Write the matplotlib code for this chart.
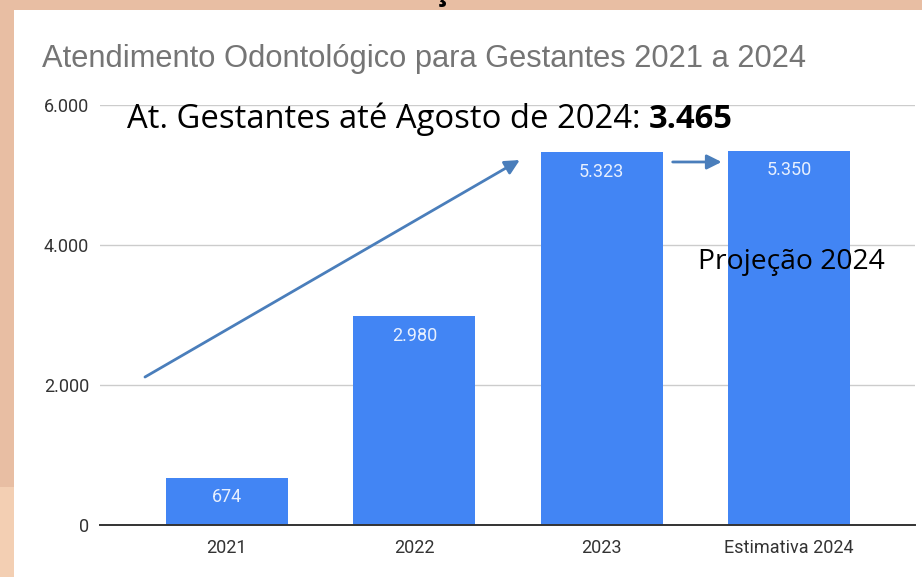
import matplotlib
matplotlib.use("Agg")
import matplotlib.pyplot as plt
from matplotlib.patches import Rectangle

categories = ["2021", "2022", "2023", "Estimativa 2024"]
values = [674, 2980, 5323, 5350]
value_labels = ["674", "2.980", "5.323", "5.350"]
yticks = [0, 2000, 4000, 6000]
ytick_labels = ["0", "2.000", "4.000", "6.000"]

title = "Atendimento Odontológico para Gestantes 2021 a 2024"
note_main = "At. Gestantes até Agosto de 2024: "
note_bold = "3.465"
note_proj = "Projeção 2024"

W, H = 922, 577
fig = plt.figure(figsize=(W / 100, H / 100), dpi=100)
fig.patch.set_facecolor("white")

# peach frame
fig.add_artist(Rectangle((0, 1 - 10 / H), 1, 10 / H, transform=fig.transFigure,
                         facecolor="#E8BEA3", edgecolor="none", zorder=0))
fig.add_artist(Rectangle((0, (H - 487) / H), 14 / W, (487 - 10) / H, transform=fig.transFigure,
                         facecolor="#E8BEA3", edgecolor="none", zorder=0))
fig.add_artist(Rectangle((0, 0), 14 / W, (H - 487) / H, transform=fig.transFigure,
                         facecolor="#F3CFB3", edgecolor="none", zorder=0))
# cut-off slide heading (only the cedilla is visible)
fig.text(441 / W, 1.0, "ç", ha="center", va="baseline", fontsize=22,
         family="Open Sans", fontweight="bold", color="black")

ax = fig.add_axes([100 / W, 52 / H, 815 / W, 420 / H])
ax.set_facecolor("white")
x = list(range(len(categories)))
bars = ax.bar(x, values, width=0.65, color="#4285F4", zorder=3)
for xi, v, lab in zip(x, values, value_labels):
    ax.annotate(lab, (xi, v), xytext=(0, -14), textcoords="offset points",
                ha="center", va="center", color="#E8F0FE", fontsize=13,
                family="Roboto", zorder=4)

ax.set_xlim(-0.677, 3.672)
ax.set_ylim(0, 6000)
ax.set_yticks(yticks)
ax.set_yticklabels(ytick_labels)
ax.set_xticks(x)
ax.set_xticklabels(categories)
ax.tick_params(axis="both", length=0, labelsize=13, colors="#444444")
ax.tick_params(axis="y", pad=8)
ax.tick_params(axis="x", pad=10)
for lab in ax.get_xticklabels() + ax.get_yticklabels():
    lab.set_family("Roboto")
    lab.set_color("#333333")
ax.grid(axis="y", color="#CCCCCC", linewidth=1, zorder=0)
for s in ["top", "right", "left"]:
    ax.spines[s].set_visible(False)
ax.spines["bottom"].set_color("#333333")
ax.spines["bottom"].set_linewidth(1.4)
ax.spines["bottom"].set_zorder(5)

fig.text(42 / W, 1 - 59 / H, title, ha="left", va="center", fontsize=22.2,
         color="#757575", family="Liberation Sans")

# annotations
t = ax.text(-0.533, 5800, note_main, ha="left", va="center",
            fontsize=23.6, family="Open Sans", color="black", zorder=6)
fig.canvas.draw()
bb = t.get_window_extent()
ax.annotate(note_bold, xy=(bb.x1, (bb.y0 + bb.y1) / 2), xycoords="figure pixels",
            ha="left", va="center", fontsize=23.6, family="Open Sans",
            fontweight="bold", color="black", zorder=6)

ax.text(2.512, 3750, note_proj, ha="left", va="center", fontsize=20.3,
        family="Open Sans", color="black", zorder=6)

arrow_color = "#4A7EBB"
ax.annotate("", xy=(1.563, 5214), xytext=(-0.437, 2114),
            arrowprops=dict(arrowstyle="-|>", color=arrow_color, lw=2,
                            mutation_scale=22, shrinkA=0, shrinkB=0), zorder=6)
ax.annotate("", xy=(2.640, 5186), xytext=(2.379, 5186),
            arrowprops=dict(arrowstyle="-|>", color=arrow_color, lw=2,
                            mutation_scale=22, shrinkA=0, shrinkB=0), zorder=6)

fig.savefig("out.png", dpi=100, facecolor=fig.get_facecolor())
